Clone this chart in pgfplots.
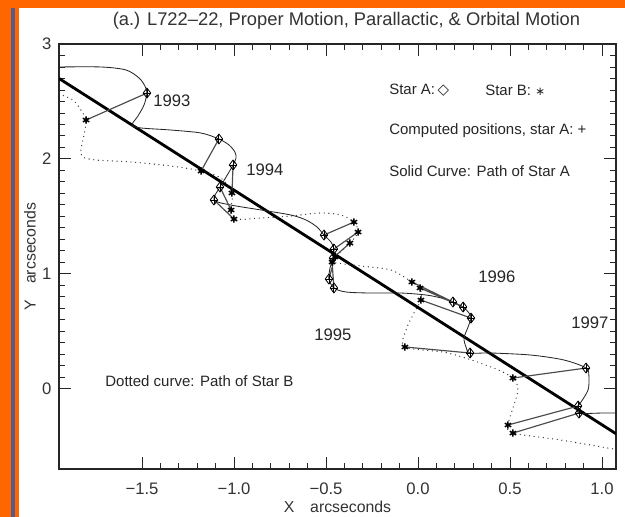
\documentclass[border=0pt]{standalone}
\usepackage{fontspec}
\setmainfont{Liberation Sans}
\newfontfamily\symfont{DejaVu Sans}
\usepackage{pgfplots}
\usepackage{pgfplotstable}
\pgfplotsset{compat=1.18}
\definecolor{frameorange}{RGB}{255,102,0}
\definecolor{frameslate}{RGB}{88,90,140}

% Path of star A (solid curve)
\pgfplotstableread{
x y
-1.951 2.800
-1.723 2.800
-1.587 2.774
-1.516 2.704
-1.484 2.634
-1.473 2.573
-1.489 2.469
-1.522 2.373
-1.554 2.295
-1.505 2.269
-1.342 2.251
-1.179 2.225
-1.082 2.173
-1.027 2.121
-0.995 2.060
-0.989 2.007
-1.005 1.947
-1.043 1.842
-1.076 1.755
-1.109 1.642
-1.016 1.598
-0.853 1.555
-0.690 1.511
-0.609 1.468
-0.549 1.407
-0.511 1.337
-0.473 1.276
-0.457 1.215
-0.462 1.137
-0.478 1.050
-0.484 0.954
-0.457 0.876
-0.391 0.841
-0.255 0.832
-0.092 0.832
0.043 0.815
0.125 0.789
0.190 0.754
0.245 0.710
0.277 0.658
0.288 0.614
0.272 0.536
0.250 0.440
0.261 0.362
0.283 0.310
0.397 0.310
0.614 0.292
0.793 0.249
0.913 0.179
0.929 0.101
0.924 -0.012
0.886 -0.117
0.870 -0.152
0.875 -0.213
0.995 -0.213
1.076 -0.213
}\pathA

% Path of star B (dotted curve)
\pgfplotstableread{
x y
-1.951 2.565
-1.875 2.512
-1.832 2.425
-1.804 2.338
-1.815 2.208
-1.832 2.077
-1.821 2.016
-1.750 1.990
-1.560 1.973
-1.342 1.938
-1.179 1.894
-1.071 1.833
-1.011 1.703
-1.016 1.555
-1.000 1.476
-0.853 1.485
-0.690 1.503
-0.527 1.529
-0.418 1.511
-0.348 1.450
-0.326 1.363
-0.370 1.267
-0.451 1.146
-0.467 1.102
-0.310 1.067
-0.147 1.032
-0.033 0.928
0.011 0.876
0.016 0.771
-0.022 0.658
-0.065 0.510
-0.071 0.362
0.163 0.310
0.397 0.188
0.516 0.092
0.543 -0.012
0.516 -0.169
0.489 -0.317
0.516 -0.387
0.777 -0.448
1.076 -0.530
}\pathB

% Observed positions of star A
\pgfplotstableread{
x y
-1.473 2.573
-1.082 2.173
-1.005 1.947
-1.076 1.755
-1.109 1.642
-0.511 1.337
-0.457 1.215
-0.462 1.137
-0.484 0.954
-0.457 0.876
0.190 0.754
0.245 0.710
0.288 0.614
0.283 0.310
0.913 0.179
0.870 -0.152
0.875 -0.213
}\obsA

% Observed positions of star B
\pgfplotstableread{
x y
-1.804 2.338
-1.179 1.894
-1.011 1.703
-1.016 1.555
-1.000 1.476
-0.348 1.450
-0.326 1.363
-0.370 1.267
-0.451 1.146
-0.467 1.102
-0.033 0.928
0.011 0.876
0.016 0.771
-0.071 0.362
0.516 0.092
0.489 -0.317
0.516 -0.387
}\obsB

% A--B pairs at each epoch
\pgfplotstableread{
x y
-1.473 2.573
-1.804 2.338
nan nan
-1.082 2.173
-1.179 1.894
nan nan
-1.005 1.947
-1.011 1.703
nan nan
-1.076 1.755
-1.016 1.555
nan nan
-1.109 1.642
-1.000 1.476
nan nan
-0.511 1.337
-0.348 1.450
nan nan
-0.457 1.215
-0.326 1.363
nan nan
-0.462 1.137
-0.370 1.267
nan nan
-0.484 0.954
-0.451 1.146
nan nan
-0.457 0.876
-0.467 1.102
nan nan
0.190 0.754
-0.033 0.928
nan nan
0.245 0.710
0.011 0.876
nan nan
0.288 0.614
0.016 0.771
nan nan
0.283 0.310
-0.071 0.362
nan nan
0.913 0.179
0.516 0.092
nan nan
0.870 -0.152
0.489 -0.317
nan nan
0.875 -0.213
0.516 -0.387
}\pairs

\begin{document}
\begin{tikzpicture}
\path[use as bounding box] (0,0) rectangle (375pt,-310.2pt);
\fill[white] (0,0) rectangle (375pt,-310.2pt);
\fill[frameorange] (0,0) rectangle (375pt,-4.8pt);
\fill[frameorange] (0,0) rectangle (11.4pt,-310.2pt);
\fill[frameslate] (6.6pt,-4.8pt) rectangle (9pt,-310.2pt);

\begin{axis}[
  at={(35.4pt,-281.4pt)}, anchor=south west,
  scale only axis, width=334.2pt, height=255pt,
  xmin=-1.951, xmax=1.076, ymin=-0.7, ymax=3,
  xtick={-1.5,-1,-0.5,0,0.5,1},
  xticklabels={−1.5,−1.0,−0.5,0.0,0.5,1.0},
  ytick={0,1,2,3}, yticklabels={0,1,2,3},
  minor x tick num=4, minor y tick num=9,
  tick align=inside,
  major tick length=7pt, minor tick length=3.6pt,
  every tick/.style={black!85, line width=0.5pt},
  axis line style={black!85, line width=0.7pt},
  tick label style={font=\fontsize{10}{12}\selectfont, color=black!80},
  xticklabel style={yshift=-5pt},
  yticklabel style={xshift=-1pt},
  xlabel={X\quad arcseconds}, ylabel={Y\quad arcseconds},
  label style={font=\fontsize{9.5}{11}\selectfont, color=black!80},
  xlabel style={at={(axis description cs:0.5,0)}, anchor=center, yshift=-22.8pt},
  ylabel style={at={(axis description cs:0,0.5)}, anchor=center, xshift=0pt, yshift=17.4pt},
  unbounded coords=jump,
  every axis plot/.append style={line join=round},
]
% proper-motion line
\addplot[black, line width=1.7pt] coordinates {(-1.951,2.700) (1.076,-0.393)};
% paths of both stars
\addplot[black!85, line width=0.5pt, smooth, tension=0.5] table {\pathA};
\addplot[black!80, line width=0.8pt, line cap=round, dash pattern=on 0pt off 2.8pt, smooth, tension=0.5] table {\pathB};
% epoch pairs
\addplot[black!70, line width=0.7pt] table {\pairs};
% markers
\addplot[only marks, mark=diamond, mark size=3pt, mark options={black, line width=0.5pt}] table {\obsA};
\addplot[only marks, mark=+, mark size=2.6pt, mark options={black, line width=0.5pt}] table {\obsA};
\addplot[only marks, mark=asterisk, mark size=2.2pt, mark options={black, line width=0.9pt}] table {\obsB};

\begin{scope}[every node/.style={anchor=west, font=\fontsize{9}{11}\selectfont, text=black!85, inner sep=0pt}]
\node at (axis cs:-1.440,2.504) {\fontsize{10}{12}\selectfont 1993};
\node at (axis cs:-0.935,1.903) {\fontsize{10}{12}\selectfont 1994};
\node at (axis cs:-0.565,0.466) {\fontsize{10}{12}\selectfont 1995};
\node at (axis cs:0.326,0.971) {\fontsize{10}{12}\selectfont 1996};
\node at (axis cs:0.832,0.571) {\fontsize{10}{12}\selectfont 1997};
\node at (axis cs:-0.158,2.600) {Star A:\,{\symfont ◇}};
\node at (axis cs:0.364,2.600) {Star B: {\symfont\fontsize{7}{9}\selectfont ∗}};
\node at (axis cs:-0.158,2.243) {Computed positions, star A: +};
\node at (axis cs:-0.158,1.894) {Solid Curve: Path of Star A};
\node at (axis cs:-1.701,0.066) {Dotted curve: Path of Star B};
\end{scope}
\end{axis}

\node[font=\fontsize{11}{13}\selectfont, text=black!80, inner sep=0pt] at (207.9pt,-12.6pt)
  {(a.) L722–22, Proper Motion, Parallactic, \& Orbital Motion};
\end{tikzpicture}
\end{document}
